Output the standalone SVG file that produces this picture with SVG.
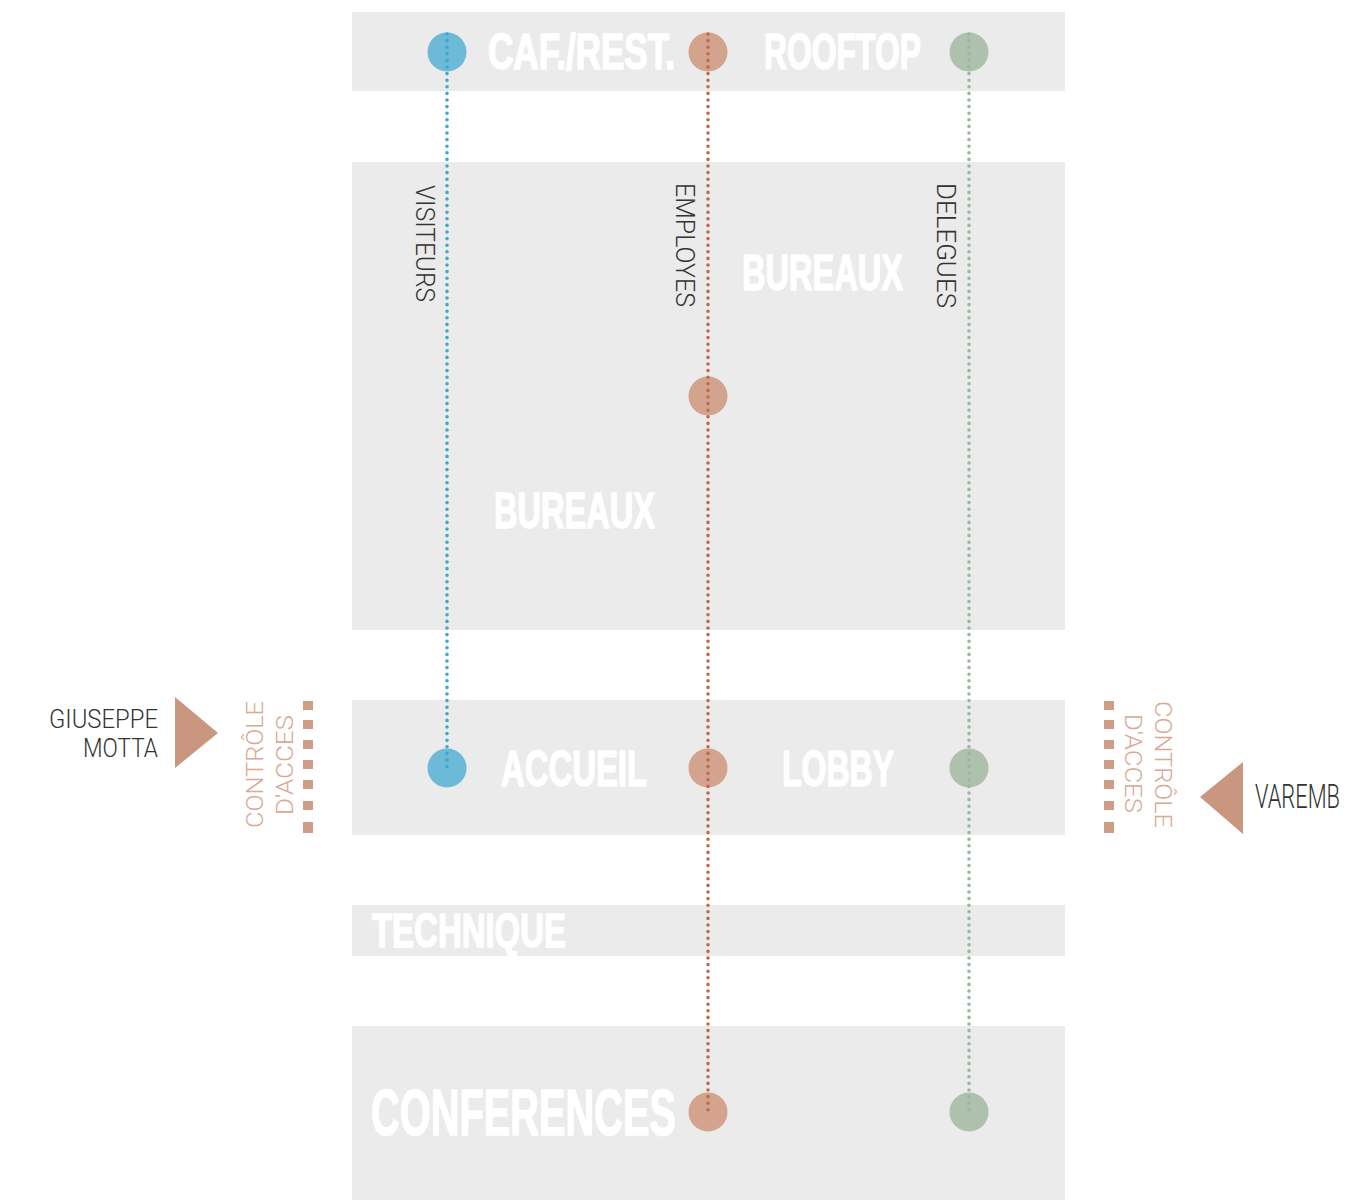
<svg xmlns="http://www.w3.org/2000/svg" width="1348" height="1203" viewBox="0 0 1348 1203">
<style>
.band{fill:#ebebeb}
.big{font-family:"Liberation Sans Narrow","Liberation Sans","DejaVu Sans Condensed",sans-serif;font-weight:bold;fill:#ffffff;stroke:#ffffff;stroke-width:1.6;stroke-linejoin:round}
.lbl{font-family:"Roboto","Liberation Sans",sans-serif;font-weight:300;fill:#333333;font-size:26px}
.acc{font-family:"Roboto","Liberation Sans",sans-serif;font-weight:300;fill:#d8a994;font-size:24px}
.dot{fill:none;stroke-width:3.6;stroke-linecap:round;stroke-dasharray:0 6.6}
.cb{fill:#6cbad7}.cO{fill:#d4a38d}.cg{fill:#aec1ac}
.lb{stroke:#3fa7cd}.lO{stroke:#bf6a4b}.lg{stroke:#9cb69c}
.tri{fill:#c99680}
.dash{fill:#cf9c86}
</style>
<g id="bands">
<rect id="band-top" class="band" x="352" y="12" width="713" height="79"/>
<rect id="band-bureaux" class="band" x="352" y="162" width="713" height="468"/>
<rect id="band-accueil" class="band" x="352" y="700" width="713" height="135"/>
<rect id="band-technique" class="band" x="352" y="905" width="713" height="51"/>
<rect id="band-conferences" class="band" x="352" y="1026" width="713" height="174"/>
</g>
<g id="band-labels">
<text class="big" x="488" y="69" font-size="50" textLength="187" lengthAdjust="spacingAndGlyphs">CAF./REST.</text>
<text class="big" x="764" y="69" font-size="50" textLength="157" lengthAdjust="spacingAndGlyphs">ROOFTOP</text>
<text class="big" x="742" y="290" font-size="50" textLength="161" lengthAdjust="spacingAndGlyphs">BUREAUX</text>
<text class="big" x="494" y="528" font-size="50" textLength="161" lengthAdjust="spacingAndGlyphs">BUREAUX</text>
<text class="big" x="501" y="786" font-size="50" textLength="146" lengthAdjust="spacingAndGlyphs">ACCUEIL</text>
<text class="big" x="782" y="786" font-size="50" textLength="112" lengthAdjust="spacingAndGlyphs">LOBBY</text>
<text class="big" x="372" y="947" font-size="49" textLength="194" lengthAdjust="spacingAndGlyphs">TECHNIQUE</text>
<text class="big" x="371" y="1135" font-size="65" textLength="305" lengthAdjust="spacingAndGlyphs">CONFERENCES</text>
</g>
<g id="nodes">
<circle id="n-visiteurs-top" class="cb" cx="447" cy="52" r="19.5"/>
<circle id="n-visiteurs-accueil" class="cb" cx="447" cy="768" r="19.5"/>
<circle id="n-employes-top" class="cO" cx="708" cy="52" r="19.5"/>
<circle id="n-employes-bureaux" class="cO" cx="708" cy="396" r="19.5"/>
<circle id="n-employes-accueil" class="cO" cx="708" cy="768" r="19.5"/>
<circle id="n-employes-conf" class="cO" cx="708" cy="1112" r="19.5"/>
<circle id="n-delegues-top" class="cg" cx="969" cy="52" r="19.5"/>
<circle id="n-delegues-accueil" class="cg" cx="969" cy="768" r="19.5"/>
<circle id="n-delegues-conf" class="cg" cx="969" cy="1112" r="19.5"/>
</g>
<g id="connectors">
<line class="dot lb" x1="447" y1="34" x2="447" y2="768"/>
<line class="dot lO" x1="708" y1="34" x2="708" y2="1112"/>
<line class="dot lg" x1="969" y1="34" x2="969" y2="1112"/>
</g>
<g id="flow-labels">
<text class="lbl" transform="translate(416,185) rotate(90)" textLength="117" lengthAdjust="spacingAndGlyphs">VISITEURS</text>
<text class="lbl" transform="translate(676,183) rotate(90)" textLength="124" lengthAdjust="spacingAndGlyphs">EMPLOYES</text>
<text class="lbl" transform="translate(937,183) rotate(90)" textLength="125" lengthAdjust="spacingAndGlyphs">DELEGUES</text>
</g>
<g id="entry-left">
<text class="lbl" x="158" y="728" text-anchor="end" textLength="109" lengthAdjust="spacingAndGlyphs" fill="#555">GIUSEPPE</text>
<text class="lbl" x="158" y="757" text-anchor="end" textLength="75" lengthAdjust="spacingAndGlyphs">MOTTA</text>
<polygon class="tri" points="175,697 175,768 218,733"/>
<text class="acc" transform="translate(263,828) rotate(-90)" textLength="127" lengthAdjust="spacingAndGlyphs">CONTRÔLE</text>
<text class="acc" transform="translate(293,815) rotate(-90)" textLength="100" lengthAdjust="spacingAndGlyphs">D'ACCES</text>
<g class="dash">
<rect x="303" y="701" width="10" height="9"/>
<rect x="303" y="720" width="10" height="9"/>
<rect x="303" y="740" width="10" height="9"/>
<rect x="303" y="760" width="10" height="9"/>
<rect x="303" y="780" width="10" height="9"/>
<rect x="303" y="801" width="10" height="9"/>
<rect x="303" y="822" width="10" height="11"/>
</g>
</g>
<g id="entry-right">
<text class="lbl" transform="translate(1255,808) scale(1,1.28)" font-size="20" textLength="85" lengthAdjust="spacingAndGlyphs">VAREMB</text>
<polygon class="tri" points="1243,762 1243,834 1200,797"/>
<text class="acc" transform="translate(1155,701) rotate(90)" textLength="127" lengthAdjust="spacingAndGlyphs">CONTRÔLE</text>
<text class="acc" transform="translate(1125,714) rotate(90)" textLength="99" lengthAdjust="spacingAndGlyphs">D'ACCES</text>
<g class="dash">
<rect x="1104" y="701" width="10" height="9"/>
<rect x="1104" y="720" width="10" height="9"/>
<rect x="1104" y="740" width="10" height="9"/>
<rect x="1104" y="760" width="10" height="9"/>
<rect x="1104" y="780" width="10" height="9"/>
<rect x="1104" y="801" width="10" height="9"/>
<rect x="1104" y="822" width="10" height="11"/>
</g>
</g>
</svg>
